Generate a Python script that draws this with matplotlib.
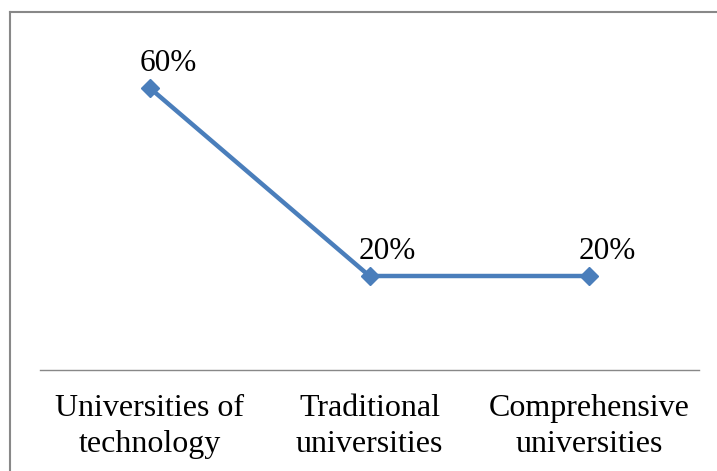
import matplotlib.pyplot as plt
from matplotlib.lines import Line2D

categories = ["Universities of\ntechnology", "Traditional\nuniversities",
              "Comprehensive\nuniversities"]
shares = [0.60, 0.20, 0.20]
labels = ["60%", "20%", "20%"]

C_LINE = "#4A7EBB"
C_GRAY = "#888888"

plt.rcParams.update({"font.family": ["Liberation Serif", "DejaVu Serif"],
                     "font.size": 23})

W, H = 717, 471
fig = plt.figure(figsize=(W / 100, H / 100), dpi=100)
ax = fig.add_axes([40 / W, (H - 370) / H, 659 / W, 329 / H])

x = list(range(len(categories)))
ax.plot(x, shares, color=C_LINE, lw=3.2, marker="D", ms=9.5,
        mfc=C_LINE, mec=C_LINE, solid_joinstyle="miter")
for xi, v, t in zip(x, shares, labels):
    ax.annotate(t, (xi, v), xytext=(13, 12), textcoords="offset points",
                ha="center", va="baseline", fontsize=22.5)

ax.set_xlim(-0.5, 2.5)
ax.set_ylim(0, 0.7)
ax.set_xticks(x)
ax.set_xticklabels(categories, fontsize=23, linespacing=1.32)
ax.tick_params(axis="x", length=0, pad=17)
ax.set_yticks([])
for s in ("top", "right", "left"):
    ax.spines[s].set_visible(False)
ax.spines["bottom"].set_color(C_GRAY)
ax.spines["bottom"].set_linewidth(1.0)

# chart-area frame (cropped on right and bottom)
fig.add_artist(Line2D([9.5 / W, 9.5 / W], [0, 1 - 12 / H], transform=fig.transFigure,
                      color=C_GRAY, lw=1.5))
fig.add_artist(Line2D([9.5 / W, 1], [1 - 12 / H, 1 - 12 / H], transform=fig.transFigure,
                      color=C_GRAY, lw=1.5))

fig.savefig("out.png", dpi=100)
